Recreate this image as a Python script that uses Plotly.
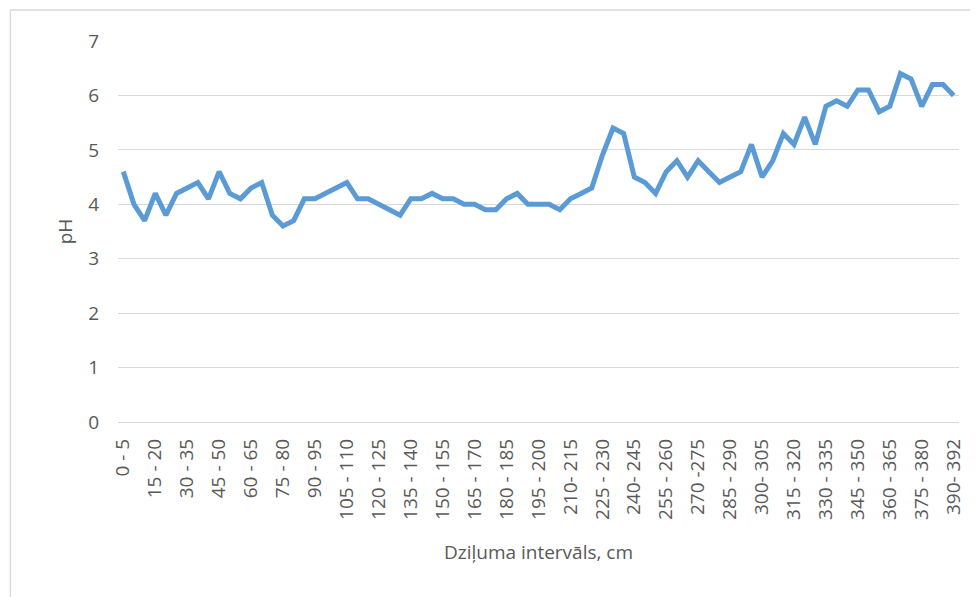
import plotly.graph_objects as go

# depth intervals (cm) and soil pH
intervals = [f"{a} - {a + 5}" for a in range(0, 390, 5)] + ["390- 392"]
label_fix = {"210 - 215": "210- 215", "240 - 245": "240- 245",
             "270 - 275": "270 -275", "300 - 305": "300- 305"}
intervals = [label_fix.get(s, s) for s in intervals]

ph = [
    4.6, 4.0, 3.7, 4.2, 3.8, 4.2, 4.3, 4.4, 4.1, 4.6,
    4.2, 4.1, 4.3, 4.4, 3.8, 3.6, 3.7, 4.1, 4.1, 4.2,
    4.3, 4.4, 4.1, 4.1, 4.0, 3.9, 3.8, 4.1, 4.1, 4.2,
    4.1, 4.1, 4.0, 4.0, 3.9, 3.9, 4.1, 4.2, 4.0, 4.0,
    4.0, 3.9, 4.1, 4.2, 4.3, 4.9, 5.4, 5.3, 4.5, 4.4,
    4.2, 4.6, 4.8, 4.5, 4.8, 4.6, 4.4, 4.5, 4.6, 5.1,
    4.5, 4.8, 5.3, 5.1, 5.6, 5.1, 5.8, 5.9, 5.8, 6.1,
    6.1, 5.7, 5.8, 6.4, 6.3, 5.8, 6.2, 6.2, 6.0,
]

y_ticks = [0, 1, 2, 3, 4, 5, 6, 7]

font = dict(family="Open Sans", size=19, color="#595959")
grid = "#D9D9D9"

fig = go.Figure()
fig.add_trace(go.Scatter(
    x=intervals, y=ph, mode="lines",
    line=dict(color="#5B9BD5", width=5),
))

fig.update_layout(
    width=970, height=589,
    margin=dict(l=110, r=14, t=33, b=175),
    paper_bgcolor="white", plot_bgcolor="white",
    showlegend=False,
    font=font,
    xaxis=dict(
        type="category",
        range=[-0.5, len(intervals) - 0.5],
        tickvals=intervals[::3],
        tickangle=-90,
        tickfont=font,
        ticklabelstandoff=12,
        showgrid=False,
        showline=False,
        zeroline=False,
        title=dict(text="Dziļuma intervāls, cm", font=font, standoff=26),
    ),
    yaxis=dict(
        range=[0, 7],
        tickvals=y_ticks,
        tickfont=font,
        ticklabelstandoff=18,
        showgrid=True, gridcolor=grid, gridwidth=1.3,
        zeroline=True, zerolinecolor=grid, zerolinewidth=1.3,
        showline=False,
        title=dict(text="pH", font=font, standoff=10),
    ),
    shapes=[dict(
        type="rect", xref="paper", yref="paper",
        x0=-0.128, x1=1.05, y0=-0.6, y1=1.0814,
        line=dict(color=grid, width=1.3), fillcolor="rgba(0,0,0,0)",
        layer="below",
    )],
)

fig.write_html("out.html")
